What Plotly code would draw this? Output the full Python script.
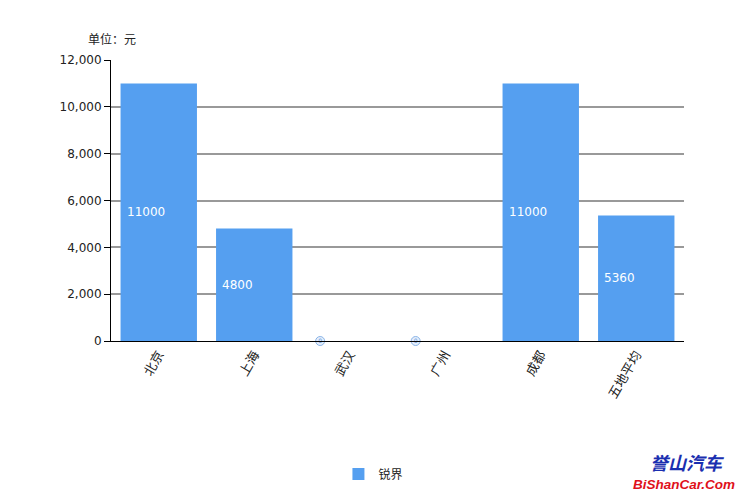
import plotly.graph_objects as go

categories = ["北京", "上海", "武汉", "广州", "成都", "五地平均"]
values = [11000, 4800, 0, 0, 11000, 5360]
series_name = "锐界"
y_ticks = [0, 2000, 4000, 6000, 8000, 10000, 12000]

BAR = "#559ff0"
FONT = "Noto Sans CJK SC, DejaVu Sans, sans-serif"
LABEL_OFFSET = 0.31  # data labels sit at the left side of each bar slot

fig = go.Figure()
fig.add_trace(go.Bar(
    x=categories, y=values, name=series_name,
    marker=dict(color=BAR, line=dict(color="#4a8fdc", width=0)),
    width=0.8, showlegend=True,
))

zero_idx = [i for i, v in enumerate(values) if v == 0]
fig.add_trace(go.Scatter(
    x=[i - LABEL_OFFSET for i in zero_idx], y=[values[i] for i in zero_idx],
    xaxis="x2", mode="markers+text", text=[str(values[i]) for i in zero_idx],
    textposition="middle center", textfont=dict(size=6, color="#5b8fd8", family="DejaVu Sans"),
    marker=dict(symbol="circle", size=9, color="#e4eefb", line=dict(color="#8ab4e8", width=1)),
    showlegend=False, cliponaxis=False, hoverinfo="skip",
))

annotations = []
for c, v in zip(categories, values):
    if v > 0:
        annotations.append(dict(x=c, y=v / 2, xref="x", yref="y", text=str(v),
                                showarrow=False, xanchor="left", xshift=-34,
                                font=dict(color="white", size=12, family="DejaVu Sans")))

annotations.append(dict(x=-0.043, y=1.078, xref="paper", yref="paper", text="单位：元",
                        showarrow=False, xanchor="left", yanchor="middle",
                        font=dict(size=12, color="#222", family=FONT)))
annotations.append(dict(xref="paper", yref="paper", x=1.006, y=-0.43, text="<b><i>誉山汽车</i></b>",
                        showarrow=False, xanchor="center", yanchor="middle",
                        font=dict(size=18, color="#1a2fb0", family="Noto Sans CJK SC")))
annotations.append(dict(xref="paper", yref="paper", x=1.0, y=-0.51, text="<b><i>BiShanCar.Com</i></b>",
                        showarrow=False, xanchor="center", yanchor="middle",
                        font=dict(size=13.5, color="#e0101a", family="Liberation Sans")))

fig.update_layout(
    width=736, height=488,
    margin=dict(l=103, r=60, t=52, b=155, autoexpand=False),
    paper_bgcolor="white", plot_bgcolor="white",
    font=dict(family=FONT, size=12, color="#222"),
    bargap=0.2,
    xaxis=dict(tickangle=-60, showline=True, linecolor="#000", linewidth=1,
               showgrid=False, ticks="", automargin=False,
               tickfont=dict(size=13, color="#222")),
    xaxis2=dict(overlaying="x", range=[-0.5, len(categories) - 0.5], visible=False,
                showgrid=False, zeroline=False),
    yaxis=dict(range=[0, 12000], tickvals=y_ticks, tickformat=",d",
               showline=True, linecolor="#000", linewidth=1, automargin=False,
               ticks="outside", ticklen=6, tickcolor="#000",
               showgrid=True, gridcolor="#999", gridwidth=1.5, zeroline=False,
               tickfont=dict(size=12, color="#222", family="DejaVu Sans")),
    legend=dict(orientation="h", x=0.458, xanchor="center", y=-0.473, yanchor="middle",
                font=dict(size=12, color="#222")),
    annotations=annotations,
)

fig.write_html("out.html")
